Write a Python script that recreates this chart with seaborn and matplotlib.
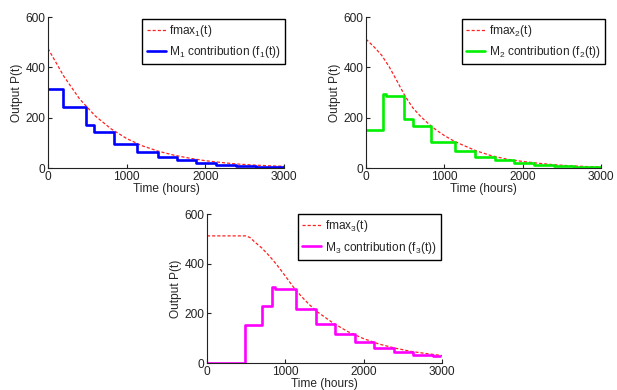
import numpy as np
import pandas as pd
import matplotlib
matplotlib.use('Agg')
import matplotlib.pyplot as plt
import seaborn as sns

# fmax curves
fmax1_t = [0, 200, 400, 600, 800, 1000, 1200, 1400, 1600, 1800, 2000, 2200, 2400, 2600, 2800, 3000]
fmax1_p = [475, 365, 275, 207, 156, 117, 88, 67, 51, 39, 29, 22, 16, 12, 9, 7]

fmax2_t = [0, 100, 200, 300, 400, 500, 600, 700, 800, 900, 1000, 1100, 1200, 1400, 1600, 1800,
           2000, 2200, 2400, 2600, 2800, 3000]
fmax2_p = [512, 482, 448, 400, 343, 285, 238, 204, 175, 150, 129, 111, 96, 69, 49, 35,
           26, 19, 13, 9, 6, 4]

fmax3_t = [0, 500, 550, 600, 700, 800, 900, 1000, 1100, 1200, 1300, 1400, 1600, 1800, 2000,
           2200, 2400, 2600, 2800, 3000]
fmax3_p = [512, 512, 505, 490, 463, 430, 392, 350, 307, 270, 237, 208, 163, 126, 98,
           76, 60, 47, 38, 30]

# machine contributions: step start times and levels
m1_t = [0, 188, 482, 580, 835, 1137, 1392, 1637, 1885, 2137, 2390, 2640, 3000]
m1_p = [313, 243, 170, 143, 95, 64, 45, 30, 20, 13, 7, 3, 3]

m2_t = [0, 190, 215, 250, 482, 594, 825, 1141, 1397, 1641, 1889, 2145, 2402, 2658, 3000]
m2_p = [152, 152, 296, 286, 193, 167, 103, 68, 44, 30, 21, 13, 8, 4, 4]

m3_t = [0, 483, 706, 834, 870, 1140, 1387, 1632, 1885, 2133, 2383, 2632, 2885, 2980]
m3_p = [0, 155, 231, 308, 297, 216, 159, 116, 84, 60, 44, 31, 27, 27]

panels = [
    (fmax1_t, fmax1_p, m1_t, m1_p, '#0000ff', '1'),
    (fmax2_t, fmax2_p, m2_t, m2_p, '#00f000', '2'),
    (fmax3_t, fmax3_p, m3_t, m3_p, '#ff00ff', '3'),
]

FS = 8.6

sns.set_theme(style='white')
plt.rcParams['font.family'] = ['Liberation Sans', 'DejaVu Sans']
plt.rcParams['mathtext.default'] = 'regular'
plt.rcParams['font.size'] = FS

fig = plt.figure(figsize=(6.17, 3.90), dpi=100)
rects = [
    [0.0778, 0.5692, 0.3825, 0.3872],
    [0.5932, 0.5692, 0.3809, 0.3872],
    [0.3355, 0.0692, 0.3809, 0.3820],
]
leg_anchor = [(0.40, 0.99), (0.409, 0.99), (0.387, 1.0)]

for (ft, fp, mt, mp, col, k), rect, anc in zip(panels, rects, leg_anchor):
    ax = fig.add_axes(rect)
    fdf = pd.DataFrame({'t': ft, 'p': fp})
    mdf = pd.DataFrame({'t': mt, 'p': mp})
    sns.lineplot(data=fdf, x='t', y='p', ax=ax, color='#ff2020', lw=0.9,
                 dashes=False, linestyle=(0, (2.5, 1.6)), label=f'fmax$_{k}$(t)')
    sns.lineplot(data=mdf, x='t', y='p', ax=ax, color=col, lw=1.9,
                 drawstyle='steps-post', label=f'M$_{k}$ contribution (f$_{k}$(t))')
    ax.set_xlim(0, 3000)
    ax.set_ylim(0, 600)
    ax.set_xticks([0, 1000, 2000, 3000])
    ax.set_yticks([0, 200, 400, 600])
    ax.set_xlabel('Time (hours)', fontsize=FS, labelpad=0)
    ax.set_ylabel('Output P(t)', fontsize=FS, labelpad=2)
    for s in ['top', 'right']:
        ax.spines[s].set_visible(False)
    for s in ['left', 'bottom']:
        ax.spines[s].set_color('#222222')
        ax.spines[s].set_linewidth(0.8)
    ax.tick_params(direction='in', length=3, width=0.8, colors='#222222',
                   labelsize=FS, pad=2, left=True, bottom=True)
    leg = ax.legend(loc='upper left', bbox_to_anchor=anc, frameon=True, fancybox=False,
                    edgecolor='black', framealpha=1, handlelength=1.6, handletextpad=0.3,
                    borderpad=0.35, labelspacing=0.45, borderaxespad=0, fontsize=FS)
    leg.get_frame().set_linewidth(1.0)

fig.savefig('out.png', dpi=100)
